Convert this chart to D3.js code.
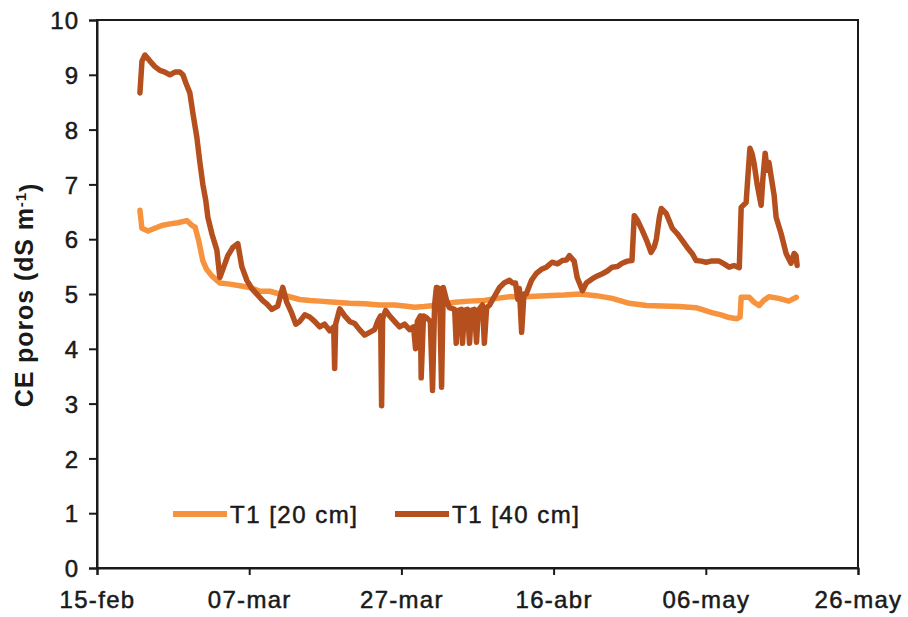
<!DOCTYPE html>
<html>
<head>
<meta charset="utf-8">
<script src="https://cdn.jsdelivr.net/npm/d3@7"></script>
<style>
  html, body { margin: 0; padding: 0; background: #fff; }
  svg { display: block; font-family: "Liberation Sans", Arial, sans-serif; }
</style>
</head>
<body>
<svg id="chart" width="908" height="617"></svg>
<script>
// Pore-water electrical conductivity, T1 at two depths.
// Times are days elapsed since 15 February.
const startDate = new Date(2011, 1, 15);
const tickDays = [0, 20, 40, 60, 80, 100];
const tickLabels = ["15-feb", "07-mar", "27-mar", "16-abr", "06-may", "26-may"];
const yTicks = [0, 1, 2, 3, 4, 5, 6, 7, 8, 9, 10];

const seriesNames = ["T1 [20 cm]", "T1 [40 cm]"];
const seriesColors = ["#F7923D", "#B5501E"];

const days20 = [5.64, 5.9, 6.7, 7.6, 8.5, 9.58, 10.6, 11.8, 12.5, 12.9, 13.4, 13.9, 14.4, 15.1, 16.14,
  17.45, 18.77, 20.08, 21.4, 22.7, 24.0, 25.3, 26.64, 27.95, 29.27, 31.2, 33.2, 35.2, 37.1, 39.1,
  40.4, 41.7, 43.0, 45.0, 47.0, 48.95, 50.9, 52.5, 54.2, 56.2, 59.05, 61.4, 63.4, 65.6, 67.7,
  69.95, 72.2, 74.3, 76.5, 78.7, 80.8, 82.0, 83.07, 84.1, 84.5, 84.65, 85.7, 86.35, 87.0, 87.6,
  88.3, 89.6, 90.9, 91.9];
const ce20 = [6.53, 6.2, 6.15, 6.2, 6.25, 6.28, 6.3, 6.34, 6.25, 6.22, 5.95, 5.61, 5.45, 5.33, 5.2,
  5.18, 5.15, 5.12, 5.05, 5.05, 5.0, 4.95, 4.9, 4.88, 4.87, 4.85, 4.83, 4.82, 4.8, 4.8,
  4.78, 4.76, 4.77, 4.8, 4.85, 4.87, 4.88, 4.92, 4.95, 4.95, 4.97, 4.98, 5.0, 4.97, 4.92,
  4.83, 4.79, 4.78, 4.77, 4.75, 4.66, 4.62, 4.57, 4.55, 4.58, 4.94, 4.94, 4.85, 4.79, 4.88,
  4.95, 4.92, 4.87, 4.94];

const days40 = [5.64, 5.91, 6.3, 6.96, 7.61, 8.27, 8.92, 9.58, 10.24, 10.89, 11.29, 11.68, 12.2, 12.6,
  13.12, 13.52, 13.91, 14.3, 14.57, 15.09, 15.75, 16.14, 16.67, 17.19, 17.85, 18.5, 19.03, 19.69,
  20.34, 21.13, 21.78, 22.31, 22.97, 23.75, 24.41, 24.93, 25.59, 26.12, 26.64, 27.3, 27.95, 28.6,
  29.27, 29.9, 30.58, 31.1, 31.23, 31.36, 31.9, 32.55, 33.2, 33.86, 34.5, 35.17, 35.83, 36.48,
  36.88, 37.27, 37.4, 37.53, 37.93, 38.45, 39.1, 39.76, 40.42, 41.08, 41.6, 41.86, 42.1, 42.5,
  42.6, 42.9, 43.3, 43.8, 44.09, 44.36, 44.6, 45.0, 45.28, 45.5, 45.9, 46.3, 47.0, 47.2, 47.5,
  47.9, 48.03, 48.3, 48.7, 48.95, 49.2, 49.6, 49.87, 50.1, 50.66, 50.9, 51.2, 51.6, 52.2, 52.9,
  53.5, 54.2, 54.6, 55.0, 55.3, 55.5, 55.8, 56.1, 56.4, 57.1, 57.7, 58.4, 59.05, 59.8, 60.5,
  61.15, 61.7, 62.07, 62.7, 63.1, 63.8, 64.3, 65.1, 65.75, 66.4, 67.06, 67.7, 68.4, 69.0, 69.7,
  70.3, 70.6, 71.0, 71.65, 72.3, 72.8, 73.2, 73.5, 73.9, 74.15, 74.8, 75.6, 76.25, 76.9, 77.56,
  78.2, 78.74, 79.4, 80.05, 80.7, 81.76, 82.4, 83.07, 83.7, 84.4, 84.65, 85.3, 85.56, 85.8, 86.1,
  86.35, 86.75, 87.27, 87.5, 87.8, 88.06, 88.3, 88.6, 88.98, 89.24, 89.9, 90.55, 91.2, 91.6,
  91.86, 92.0];
const ce40 = [8.67, 9.25, 9.36, 9.25, 9.15, 9.08, 9.05, 9.0, 9.05, 9.05, 9.0, 8.85, 8.67, 8.3,
  7.86, 7.4, 7.0, 6.7, 6.4, 6.1, 5.8, 5.3, 5.5, 5.7, 5.85, 5.92, 5.5, 5.25,
  5.1, 4.98, 4.88, 4.82, 4.72, 4.78, 5.12, 4.85, 4.65, 4.45, 4.5, 4.62, 4.58, 4.5,
  4.4, 4.45, 4.33, 4.4, 3.64, 4.45, 4.73, 4.6, 4.5, 4.46, 4.35, 4.25, 4.3, 4.35,
  4.5, 4.6, 2.96, 4.55, 4.7, 4.6, 4.5, 4.4, 4.45, 4.35, 4.4, 4.0, 4.5, 4.6,
  3.47, 4.6, 4.57, 4.5, 3.24, 4.8, 5.12, 5.1, 3.3, 5.12, 4.9, 4.75, 4.72, 4.1, 4.7,
  4.72, 4.1, 4.7, 4.72, 4.1, 4.7, 4.72, 4.12, 4.7, 4.8, 4.1, 4.75, 4.8, 4.95, 5.12,
  5.2, 5.25, 5.2, 5.2, 4.9, 5.1, 4.3, 5.0, 5.0, 5.25, 5.37, 5.45, 5.49, 5.58, 5.55,
  5.61, 5.62, 5.7, 5.6, 5.3, 5.06, 5.2, 5.28, 5.33, 5.37, 5.42, 5.49, 5.5, 5.56, 5.6,
  5.61, 6.43, 6.35, 6.16, 5.95, 5.76, 5.85, 6.0, 6.4, 6.56, 6.47, 6.2, 6.1, 5.98, 5.85,
  5.74, 5.61, 5.6, 5.58, 5.6, 5.6, 5.55, 5.49, 5.52, 5.48, 6.58, 6.67, 7.2, 7.66, 7.55,
  7.38, 7.0, 6.62, 7.1, 7.57, 7.26, 7.4, 7.13, 6.8, 6.4, 6.1, 5.74, 5.56, 5.74,
  5.7, 5.52];

const toDate = d => new Date(startDate.getTime() + d * 864e5);

const svg = d3.select("#chart");
const margin = { left: 97, right: 50, top: 20, bottom: 49 };
const W = 908, H = 617;
const ink = "#1a1a1a";

const x = d3.scaleTime()
  .domain([toDate(tickDays[0]), toDate(tickDays[tickDays.length - 1])])
  .range([margin.left, W - margin.right]);
const y = d3.scaleLinear().domain([0, 10]).range([H - margin.bottom, margin.top]);

// Frame around the plot area
svg.append("rect")
  .attr("x", x.range()[0]).attr("y", y(10))
  .attr("width", x.range()[1] - x.range()[0]).attr("height", y(0) - y(10))
  .attr("fill", "none").attr("stroke", ink).attr("stroke-width", 2);

// Axes
const xAxis = d3.axisBottom(x)
  .tickValues(tickDays.map(toDate))
  .tickFormat((d, i) => tickLabels[i])
  .tickSize(7).tickPadding(16);
const gx = svg.append("g").attr("transform", `translate(0,${y(0)})`).call(xAxis);

const yAxis = d3.axisLeft(y).tickValues(yTicks).tickFormat(d3.format("d")).tickSize(8).tickPadding(10);
const gy = svg.append("g").attr("transform", `translate(${x.range()[0]},0)`).call(yAxis);

[gx, gy].forEach(g => {
  g.select(".domain").attr("stroke", ink).attr("stroke-width", 2);
  g.selectAll(".tick line").attr("stroke", ink).attr("stroke-width", 2);
  g.selectAll(".tick text")
    .attr("fill", ink)
    .attr("stroke", ink).attr("stroke-width", 0.5)
    .style("font-size", "24px")
    .style("letter-spacing", "1px");
});
gx.selectAll(".tick text").attr("dy", "0.71em").style("letter-spacing", "1.3px");
gy.selectAll(".tick text").attr("dy", "0.36em");

// Y axis title
const yTitle = svg.append("text")
  .attr("transform", `translate(33,${295}) rotate(-90)`)
  .attr("text-anchor", "middle")
  .attr("fill", ink)
  .style("font-size", "25px")
  .style("font-weight", "bold")
  .style("letter-spacing", "0.9px");
yTitle.append("tspan").text("CE poros (dS m");
yTitle.append("tspan").attr("dy", "-0.45em").style("font-size", "15px").text("-1");
yTitle.append("tspan").attr("dy", "0.45em").text(")");

// Series lines
const line = d3.line()
  .x(d => x(toDate(d[0])))
  .y(d => y(d[1]));

const series = [
  { name: seriesNames[0], color: seriesColors[0], pts: d3.zip(days20, ce20) },
  { name: seriesNames[1], color: seriesColors[1], pts: d3.zip(days40, ce40) }
];

svg.append("g").selectAll("path").data(series).join("path")
  .attr("d", d => line(d.pts))
  .attr("fill", "none")
  .attr("stroke", d => d.color)
  .attr("stroke-width", 5.5)
  .attr("stroke-linejoin", "round")
  .attr("stroke-linecap", "round");

// Legend
const legend = svg.append("g").attr("transform", "translate(173,514)");
const legendX = [0, 222];
series.forEach((s, i) => {
  const g = legend.append("g").attr("transform", `translate(${legendX[i]},0)`);
  g.append("line").attr("x1", 0).attr("x2", 54).attr("y1", 0).attr("y2", 0)
    .attr("stroke", s.color).attr("stroke-width", 6);
  g.append("text").attr("x", 57).attr("y", 0).attr("dy", "0.36em")
    .attr("fill", ink)
    .attr("stroke", ink).attr("stroke-width", 0.5)
    .style("font-size", "24px")
    .style("letter-spacing", "1.5px")
    .text(s.name);
});
</script>
</body>
</html>
